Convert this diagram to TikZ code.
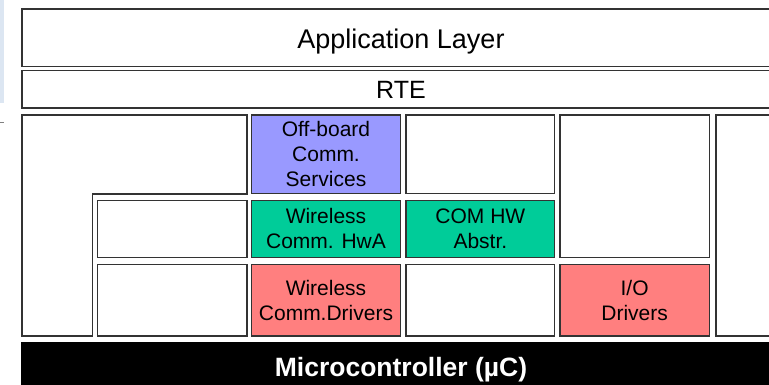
\documentclass[tikz,border=0pt]{standalone}
\usepackage{fontspec}
\setmainfont{Liberation Sans}
\definecolor{layeredge}{HTML}{333333}
\definecolor{servicefill}{HTML}{9999FF}
\definecolor{hwafill}{HTML}{00CC99}
\definecolor{driverfill}{HTML}{FF7F7F}
\definecolor{pagetint}{HTML}{DCE6F2}

\begin{document}
\begin{tikzpicture}[
  x=1pt,
  y=-1pt,
  line join=miter,
  block/.style={draw=layeredge,line width=1.5pt,fill=white},
  boxtext/.style={align=center,inner sep=0pt,font=\fontsize{21}{25}\selectfont},
  layertext/.style={anchor=base,inner sep=0pt,font=\fontsize{27}{32}\selectfont},
  mcutext/.style={anchor=base,inner sep=0pt,text=white,font=\bfseries\fontsize{26.5}{31}\selectfont}
]
  \useasboundingbox (0,0) rectangle (769,384);
  \clip (0,0) rectangle (769,384);

  % Page remnants on the left border.
  \fill[pagetint] (0,0) rectangle (4,103);
  \draw[gray,line width=1pt] (0,122) -- (4,122);

  % Full-width layers running off the right edge.
  \draw[block] (22,9) rectangle (785,66.7);
  \node[layertext] (app) at (401,48.3) {Application Layer};
  \draw[block] (22,70.7) rectangle (785,108);
  \node[layertext,font=\fontsize{25}{30}\selectfont] (rte) at (401,98.5) {RTE};

  % Left column: L-shaped block with two boxes in its notch.
  \draw[block] (22,115) -- (247,115) -- (247,194) -- (92.7,194) -- (92.7,336) -- (22,336) -- cycle;
  \draw[block] (97.3,200.3) rectangle (247,257.3);
  \draw[block] (97.3,264.3) rectangle (247,336);

  % Communication stack column.
  \draw[block,fill=servicefill] (251.3,115) rectangle (400.7,193.3);
  \node[boxtext] (offboard) at (326,154.15) {Off-board\\Comm.\\Services};
  \draw[block,fill=hwafill] (251.3,200.3) rectangle (400.7,257.3);
  \node[boxtext] (wlhwa) at (326,228.8) {Wireless\\Comm. HwA};
  \draw[block,fill=driverfill] (251.3,264.3) rectangle (400.7,336);
  \node[boxtext] (wldrv) at (326,300.15) {Wireless\\Comm.Drivers};

  % COM column.
  \draw[block] (406,115) rectangle (554.7,193.3);
  \draw[block,fill=hwafill] (406,200.3) rectangle (554.7,257.3);
  \node[boxtext] (comhw) at (480.35,228.8) {COM HW\\Abstr.};
  \draw[block] (406,264.3) rectangle (554.7,336);

  % I/O column.
  \draw[block] (560,115) rectangle (709.3,257.3);
  \draw[block,fill=driverfill] (560,264.3) rectangle (709.3,336);
  \node[boxtext] (iodrv) at (634.65,300.15) {I/O\\Drivers};

  % Right column, cut by the edge.
  \draw[block] (716,115) rectangle (785,336);

  % Hardware layer.
  \fill[black] (21.3,342.3) rectangle (790,400);
  \node[mcutext] (mcu) at (401,376.7) {Microcontroller (µC)};
\end{tikzpicture}
\end{document}
